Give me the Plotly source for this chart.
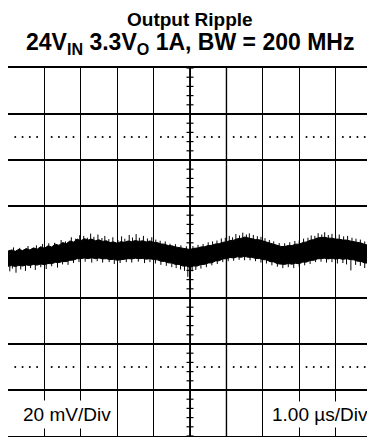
import plotly.graph_objects as go

# ---- data (time in µs, voltage in mV) ----
t_env = [i / 10 for i in range(101)]
upper_mv = [0.4, 0.9, 0.3, 1.2, 0.6, 1.5, 0.9, 1.8, 1.2, 2.3,
            1.6, 2.7, 2.2, 3.4, 2.9, 4.1, 3.6, 4.8, 4.3, 5.6,
            4.9, 5.8, 5.2, 5.6, 4.9, 5.3, 4.6, 4.9, 4.1, 4.4,
            3.8, 4.5, 4.2, 4.8, 4.5, 5.0, 4.6, 4.9, 4.4, 4.8,
            4.2, 4.1, 3.5, 3.4, 2.8, 2.7, 2.2, 2.0, 1.6, 1.5,
            1.1, 1.6, 1.7, 2.2, 2.3, 2.8, 2.9, 3.5, 3.6, 4.2,
            4.4, 5.0, 5.1, 5.8, 5.9, 6.5, 6.1, 6.0, 5.4, 5.3,
            4.8, 4.5, 3.8, 3.4, 2.7, 2.4, 2.4, 2.8, 2.8, 3.4,
            3.4, 4.1, 4.4, 5.1, 5.4, 6.1, 6.3, 6.4, 6.0, 6.0,
            5.6, 5.6, 5.2, 5.2, 4.8, 4.6, 4.1, 3.9, 3.3, 3.1,
            2.6]
lower_mv = [-6.2, -5.9, -6.3, -5.8, -6.1, -5.6, -5.9, -5.4, -5.7, -5.2,
            -5.5, -5.0, -5.1, -4.5, -4.6, -4.1, -4.2, -3.6, -3.5, -2.9,
            -2.9, -2.6, -2.9, -2.5, -2.9, -2.6, -3.0, -2.9, -3.3, -3.2,
            -3.6, -3.3, -3.3, -2.9, -3.0, -2.7, -2.9, -2.8, -3.1, -2.9,
            -3.3, -3.4, -4.0, -4.1, -4.7, -4.8, -5.4, -5.4, -6.1, -6.1,
            -6.7, -6.1, -6.1, -5.4, -5.4, -4.8, -4.7, -3.9, -3.8, -3.0,
            -2.9, -2.4, -2.6, -2.1, -2.3, -1.9, -2.3, -2.3, -2.8, -2.8,
            -3.3, -3.4, -4.2, -4.3, -5.1, -5.2, -5.4, -5.0, -5.3, -4.9,
            -5.1, -4.4, -4.4, -3.7, -3.6, -3.0, -2.9, -2.7, -3.0, -2.7,
            -3.1, -2.8, -3.2, -2.9, -3.3, -3.4, -4.0, -4.1, -4.8, -4.8,
            -5.5]

spike_up_t = [0.15, 0.32, 0.55, 0.78, 0.95, 1.12, 1.28, 1.46, 1.58, 1.74,
              1.86, 1.97, 2.08, 2.18, 2.27, 2.36, 2.47, 2.58, 2.66, 2.77,
              2.88, 3.02, 3.12, 3.21, 3.33, 3.42, 3.52, 3.61, 3.72, 3.83,
              3.95, 4.06, 4.18, 4.32, 4.45, 4.60, 4.75, 4.90, 5.08, 5.22,
              5.36, 5.50, 5.62, 5.74, 5.86, 5.97, 6.08, 6.17, 6.26, 6.36,
              6.45, 6.55, 6.63, 6.74, 6.85, 6.95, 7.06, 7.18, 7.30, 7.45,
              7.60, 7.74, 7.88, 8.00, 8.12, 8.24, 8.33, 8.43, 8.52, 8.62,
              8.70, 8.80, 8.90, 9.00, 9.10, 9.22, 9.33, 9.45, 9.56, 9.68,
              9.80, 9.92]
spike_up_mv = [2.0, 1.8, 2.6, 2.9, 3.5, 3.8, 4.0, 5.2, 4.6, 6.4,
               5.8, 7.3, 7.0, 6.2, 8.0, 6.6, 7.6, 6.1, 7.0, 5.6,
               6.4, 5.2, 6.8, 5.8, 7.4, 6.3, 7.8, 6.2, 7.0, 5.9,
               6.4, 5.4, 4.9, 4.6, 3.6, 3.4, 2.9, 2.5, 2.6, 3.1,
               3.5, 4.2, 4.6, 5.0, 5.9, 6.2, 7.0, 6.4, 7.8, 7.2,
               8.4, 7.6, 8.1, 7.4, 6.9, 6.6, 6.0, 5.2, 4.6, 3.9,
               3.8, 4.2, 4.8, 5.0, 5.8, 6.2, 7.2, 7.0, 8.2, 7.6,
               8.6, 7.4, 7.9, 7.2, 7.6, 6.8, 7.0, 6.2, 5.8, 5.4,
               4.6, 4.1]

spike_dn_t = [0.05, 0.12, 0.22, 0.35, 0.48, 0.62, 0.75, 0.90, 1.05, 1.20,
              1.36, 1.50, 1.65, 1.80, 1.95, 2.12, 2.30, 2.45, 2.60, 2.78,
              2.92, 3.08, 3.25, 3.40, 3.58, 3.75, 3.90, 4.05, 4.20, 4.35,
              4.50, 4.62, 4.74, 4.85, 4.94, 4.99, 5.06, 5.16, 5.30, 5.45,
              5.60, 5.75, 5.90, 6.05, 6.20, 6.35, 6.50, 6.65, 6.80, 6.95,
              7.10, 7.25, 7.40, 7.55, 7.70, 7.85, 8.00, 8.15, 8.30, 8.45,
              8.60, 8.75, 8.90, 9.05, 9.20, 9.30, 9.42, 9.55, 9.68, 9.80,
              9.88, 9.95]
spike_dn_mv = [-8.4, -7.2, -9.0, -7.6, -8.2, -7.0, -7.8, -6.6, -7.4, -6.2,
               -6.8, -5.4, -5.6, -4.8, -4.4, -4.2, -4.6, -4.0, -4.6, -4.4,
               -5.2, -4.8, -4.4, -4.6, -4.2, -4.8, -4.4, -5.0, -5.6, -6.0,
               -6.6, -7.0, -7.6, -8.2, -10.8, -11.2, -8.4, -7.8, -7.2, -6.6,
               -5.8, -5.2, -4.4, -4.0, -3.8, -3.4, -3.6, -3.6, -4.0, -4.6,
               -5.0, -5.8, -6.4, -7.0, -6.6, -7.0, -6.4, -5.8, -5.2, -4.4,
               -4.2, -4.6, -4.4, -5.0, -4.8, -5.4, -8.0, -5.6, -6.0, -7.0,
               -9.2, -10.0]

x_divs = list(range(0, 11))
dot_levels_mv = [50, -50]
dot_fracs = [0.2, 0.4, 0.6, 0.8]
center_tick_mv = list(range(-80, 81, 4))

title_line1 = "<b>Output Ripple</b>"
title_line2 = "<b>24V<sub>IN</sub> 3.3V<sub>O</sub> 1A, BW = 200 MHz</b>"
volt_label = "20 mV/Div"
time_label = "1.00 \u00b5s/Div"

fig = go.Figure()

# graticule dots
dx, dy = [], []
for lvl in dot_levels_mv:
    for d in x_divs[:-1]:
        for f in dot_fracs:
            dx.append(d + f)
            dy.append(lvl)
fig.add_trace(go.Scatter(x=dx, y=dy, mode="markers",
                         marker=dict(size=2, color="black"), hoverinfo="skip"))

# center vertical tick marks
fig.add_trace(go.Scatter(x=[5] * len(center_tick_mv), y=center_tick_mv, mode="markers",
                         marker=dict(symbol="line-ew", size=5,
                                     line=dict(width=1.2, color="black")),
                         hoverinfo="skip"))

# noise band
fig.add_trace(go.Scatter(x=t_env, y=upper_mv, mode="lines",
                         line=dict(color="black", width=1), hoverinfo="skip"))
fig.add_trace(go.Scatter(x=t_env, y=lower_mv, mode="lines", fill="tonexty",
                         fillcolor="black",
                         line=dict(color="black", width=1), hoverinfo="skip"))

# spikes
sx, sy = [], []
for t, v in zip(spike_up_t, spike_up_mv):
    sx += [t, t, None]
    sy += [0, v, None]
for t, v in zip(spike_dn_t, spike_dn_mv):
    sx += [t, t, None]
    sy += [0, v, None]
fig.add_trace(go.Scatter(x=sx, y=sy, mode="lines",
                         line=dict(color="black", width=1), hoverinfo="skip"))

fig.add_shape(type="line", x0=6, x1=6, y0=-80, y1=80, xref="x", yref="y",
              line=dict(color="#9a9a9a", width=2), layer="below")
fig.add_shape(type="line", x0=5, x1=5, y0=-80, y1=80, xref="x", yref="y",
              line=dict(color="black", width=1.8), layer="below")

font_family = "Liberation Sans, Arial, Helvetica, sans-serif"

# page body has an 8px default margin; the figure is sized to fit inside it
H_PLOT = 368
TOP = 60

fig.add_annotation(x=0.30, y=-70.5, xref="x", yref="y", text=volt_label,
                   showarrow=False, xanchor="left", yanchor="middle",
                   bgcolor="white", borderpad=3,
                   font=dict(family=font_family, size=19, color="black"))
fig.add_annotation(x=9.97, y=-70.5, xref="x", yref="y", text=time_label,
                   showarrow=False, xanchor="right", yanchor="middle",
                   bgcolor="white", borderpad=2,
                   font=dict(family=font_family, size=19, color="black"))
fig.add_annotation(x=0.5, y=1 + TOP / H_PLOT, xref="paper", yref="paper",
                   text=title_line1, borderpad=0,
                   showarrow=False, xanchor="center", yanchor="top",
                   font=dict(family=font_family, size=19, color="black"))
fig.add_annotation(x=0.5, y=1 + (68 - 44) / H_PLOT, xref="paper", yref="paper",
                   text=title_line2, borderpad=0,
                   showarrow=False, xanchor="center", yanchor="middle",
                   font=dict(family=font_family, size=23, color="black"))
fig.add_annotation(x=-0.02, y=2.5, xref="x", yref="y", text="1",
                   showarrow=False, xanchor="right", yanchor="middle",
                   font=dict(family=font_family, size=7, color="black"))

fig.update_layout(
    width=367, height=429,
    margin=dict(l=0, r=3, t=TOP, b=1),
    paper_bgcolor="white", plot_bgcolor="white",
    showlegend=False,
    xaxis=dict(range=[0, 10], dtick=1, tick0=0, showgrid=True,
               gridcolor="black", gridwidth=1.2, zeroline=False,
               showticklabels=False, ticks="", showline=True, mirror=True,
               linecolor="black", linewidth=2, fixedrange=True),
    yaxis=dict(range=[-80, 80], dtick=20, tick0=0, showgrid=True,
               gridcolor="black", gridwidth=2, zeroline=False,
               showticklabels=False, ticks="", showline=True, mirror=True,
               linecolor="black", linewidth=2, fixedrange=True),
)

fig.write_html("out.html")
